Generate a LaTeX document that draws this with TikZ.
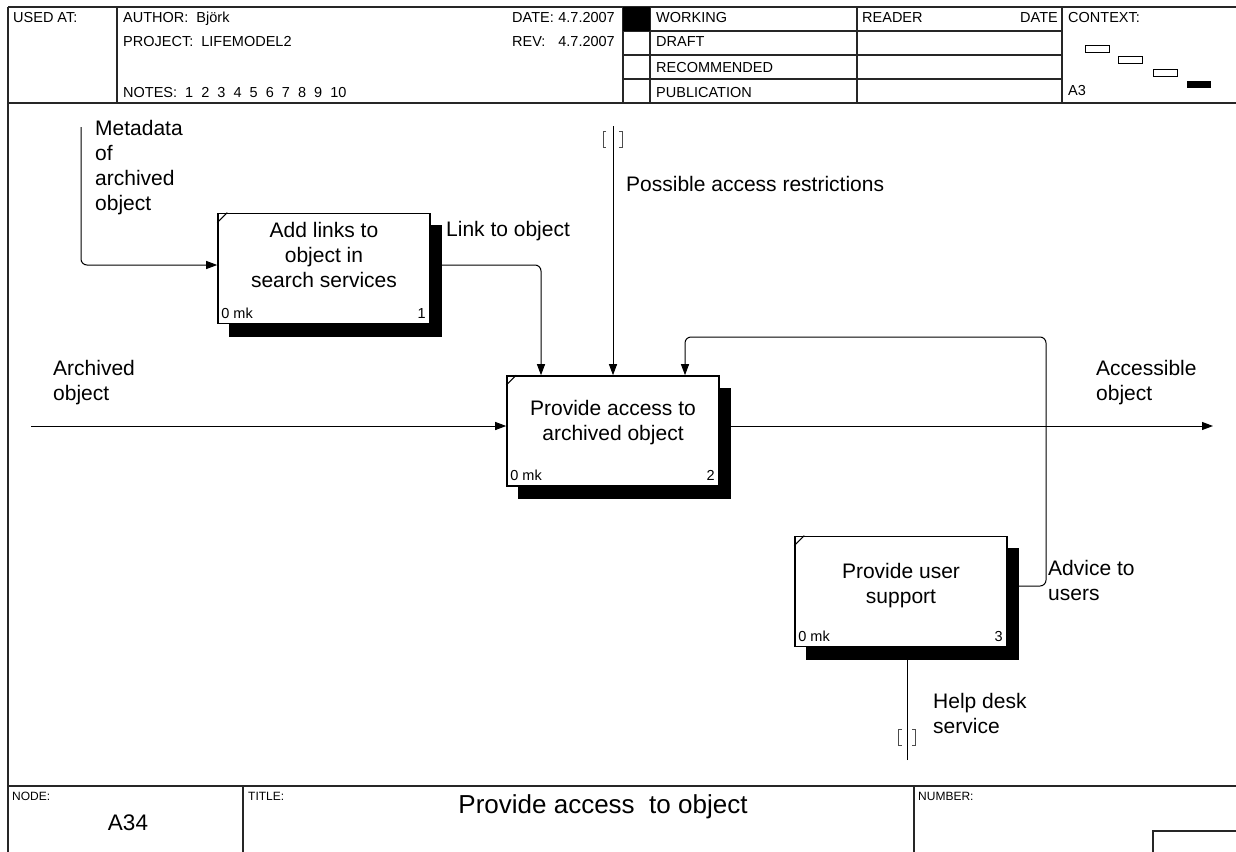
\documentclass[tikz,border=0pt]{standalone}
\usepackage{fontspec}
\setmainfont{Liberation Sans}
\usetikzlibrary{arrows.meta,backgrounds}
\pgfdeclarelayer{bottom}
\pgfsetlayers{bottom,background,main}
\begin{document}
\begin{tikzpicture}[x=1pt,y=-1pt,
  frame/.style={draw=black!85, line width=1.2pt},
  proc/.style={draw=black, fill=white, line width=1.6pt, minimum width=212pt, minimum height=110pt, inner sep=0pt},
  shadowfill/.style={fill=black},
  flow/.style={draw=black, line width=1pt, rounded corners=6pt},
  tip/.style={-{Triangle[length=11pt,width=8pt]}},
  tunnel/.style={draw=black!70, line width=1pt},
  hdr/.style={inner sep=0pt, font=\fontsize{14.5}{17}\selectfont},
  small/.style={inner sep=0pt, font=\fontsize{12}{14}\selectfont},
  big/.style={inner sep=0pt, font=\fontsize{21}{25}\selectfont},
  ctx/.style={draw=black, line width=0.9pt},
]
\useasboundingbox (0,0) rectangle (1236,851);
\begin{pgfonlayer}{bottom}
\fill[white] (0,0) rectangle (1236,851);
\end{pgfonlayer}

% ---------- frame ----------
\draw[frame] (8,7) -- (1240,7);
\draw[frame] (8,7) -- (8,856);
\draw[frame] (8,103) -- (1240,103);
\draw[frame] (8,786) -- (1240,786);
\foreach \x in {117,623,650,857,1062} \draw[frame] (\x,7) -- (\x,103);
\foreach \y in {31,55,79} \draw[frame] (623,\y) -- (1062,\y);
\fill[black] (623,7) rectangle (650,31);
\draw[frame] (243,786) -- (243,856);
\draw[frame] (914,786) -- (914,856);
\draw[frame] (1153,831) rectangle (1245,860);

% context boxes
\draw[ctx] (1085,45) rectangle (1109,52);
\draw[ctx] (1118,56) rectangle (1142,63);
\draw[ctx] (1153,69) rectangle (1177,76);
\fill[black] (1187,81) rectangle (1211,88);

% ---------- header text ----------
\node[hdr, anchor=base west] (usedat) at (13,23) {USED AT:};
\node[hdr, anchor=base west] (author) at (123,23) {AUTHOR:\ \ Björk};
\node[hdr, anchor=base west] (project) at (123,47) {PROJECT:\ \ LIFEMODEL2};
\node[hdr, anchor=base west] (notes) at (123,97) {NOTES:\ \ 1\ \ 2\ \ 3\ \ 4\ \ 5\ \ 6\ \ 7\ \ 8\ \ 9\ \ 10};
\node[hdr, anchor=base west] (datel) at (512,23) {DATE:};
\node[hdr, anchor=base east] (datev) at (615,23) {4.7.2007};
\node[hdr, anchor=base west] (revl) at (512,47) {REV:};
\node[hdr, anchor=base east] (revv) at (615,47) {4.7.2007};
\node[hdr, anchor=base west] (working) at (656,23) {WORKING};
\node[hdr, anchor=base west] (draft) at (656,47) {DRAFT};
\node[hdr, anchor=base west] (recom) at (656,72) {RECOMMENDED};
\node[hdr, anchor=base west] (publ) at (656,97) {PUBLICATION};
\node[hdr, anchor=base west] (reader) at (862,23) {READER};
\node[hdr, anchor=base east] (rdate) at (1058,23) {DATE};
\node[hdr, anchor=base west] (context) at (1068,23) {CONTEXT:};
\node[hdr, anchor=base west] (athree) at (1068,95) {A3};

% ---------- footer text ----------
\node[small, anchor=base west] (nodel) at (12,800) {NODE:};
\node[small, anchor=base west] (titlel) at (248,800) {TITLE:};
\node[small, anchor=base west] (numberl) at (918,800) {NUMBER:};
\node[inner sep=0pt, anchor=base, font=\fontsize{22.5}{26}\selectfont] (nodenum) at (128,830) {A34};
\node[inner sep=0pt, anchor=base, font=\fontsize{26}{30}\selectfont] (title) at (603,813) {Provide access\ \ to object};

% ---------- activity boxes ----------
\node[proc] (b1) at (324,268.5) {};
\node[proc] (b2) at (613,431) {};
\node[proc] (b3) at (901,591.5) {};

\foreach \b/\n in {b1/1,b2/2,b3/3}{
  \draw[line width=1pt] ([yshift=-10pt]\b.north west) -- ([xshift=10pt]\b.north west);
  \node[hdr, anchor=base west] (\b mk) at ([shift={(4pt,6pt)}]\b.south west) {0 mk};
  \node[hdr, anchor=base east] (\b num) at ([shift={(-5pt,6pt)}]\b.south east) {\n};
}

\node[big, anchor=north, align=center] (b1t) at (324,221.7) {Add links to\\object in\\search services};
\node[big, anchor=north, align=center] (b2t) at (613,399.7) {Provide access to\\archived object};
\node[big, anchor=north, align=center] (b3t) at (901,562.7) {Provide user\\support};

% ---------- labels ----------
\node[big, anchor=north west, align=left] (lmeta) at (95,119.7) {Metadata\\of\\archived\\object};
\node[big, anchor=base west] (llink) at (446,236) {Link to object};
\node[big, anchor=base west] (lposs) at (626,191) {Possible access restrictions};
\node[big, anchor=north west, align=left] (larch) at (53,359.7) {Archived\\object};
\node[big, anchor=north west, align=left] (lacc) at (1096,359.7) {Accessible\\object};
\node[big, anchor=north west, align=left] (ladv) at (1048,559.7) {Advice to\\users};
\node[big, anchor=north west, align=left] (lhelp) at (933,692.7) {Help desk\\service};

% ---------- free ends ----------
\coordinate (metastart) at (81,127);
\coordinate (ctrltop) at (613,126);
\coordinate (inleft) at (31,426);
\coordinate (outright) at (1213,426);
\coordinate (fbtop) at (1046,337);
\coordinate (helpbot) at (907,760);

% tunnel brackets
\draw[tunnel] (606,131) -- (603,131) -- (603,147) -- (606,147);
\draw[tunnel] (619,131) -- (622,131) -- (622,147) -- (619,147);
\draw[tunnel] (902,729) -- (898,729) -- (898,745) -- (902,745);
\draw[tunnel] (912,729) -- (915,729) -- (915,745) -- (912,745);

% ---------- connectors and shadows (behind boxes) ----------
\begin{pgfonlayer}{background}
  \draw[flow, tip] (metastart) |- ([yshift=3.5pt]b1.west);
  \draw[flow, tip] ([yshift=3.5pt]b1.east) -| ([xshift=-72pt]b2.north);
  \draw[flow, tip] (ctrltop) -- (b2.north);
  \draw[flow, tip] (inleft) -- ([yshift=5pt]b2.west);
  \draw[flow, tip] ([yshift=5pt]b2.east) -- (outright);
  \draw[flow, tip] ([yshift=5.5pt]b3.east) -| (fbtop) -| ([xshift=72pt]b2.north);
  \draw[flow, tip] (helpbot) -- ([xshift=6pt]b3.south);
  \foreach \b in {b1,b2,b3}
    \fill[shadowfill] ([shift={(11.5pt,-12.5pt)}]\b.south west) rectangle ([shift={(11.5pt,-12.5pt)}]\b.north east);
\end{pgfonlayer}
\end{tikzpicture}
\end{document}
